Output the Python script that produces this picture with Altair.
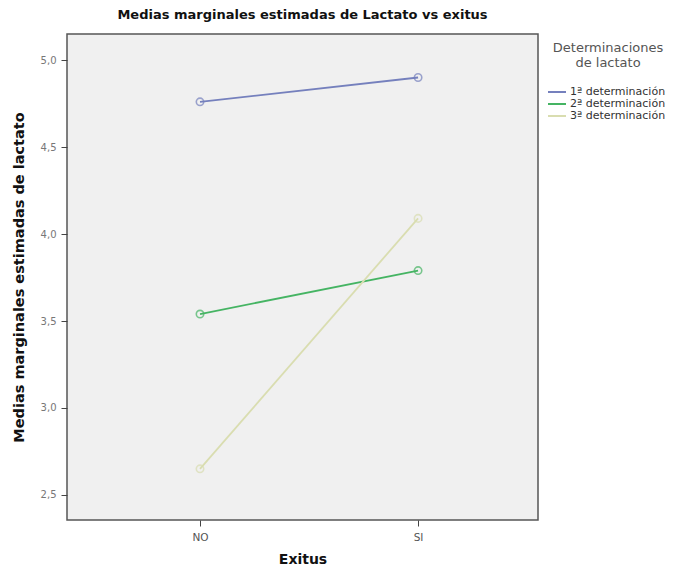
import altair as alt
import pandas as pd

exitus = ["NO", "SI"]
exitus_pos = [0, 1]
series = ["1ª determinación", "2ª determinación", "3ª determinación"]
means_1 = [4.76, 4.90]
means_2 = [3.54, 3.79]
means_3 = [2.65, 4.09]
colors = ["#7580bd", "#45b463", "#d9ddb0"]

rows = []
for s, vals in zip(series, [means_1, means_2, means_3]):
    for e, p, v in zip(exitus, exitus_pos, vals):
        rows.append({"Exitus": e, "pos": p, "Determinación": s, "Media": v})
df = pd.DataFrame(rows)

font = "DejaVu Sans"

x = alt.X("pos:Q",
          scale=alt.Scale(domain=[-0.61, 1.55], nice=False, zero=False),
          axis=alt.Axis(values=exitus_pos, title="Exitus",
                        labelExpr="datum.value == 0 ? 'NO' : 'SI'",
                        grid=False, domain=False, tickColor="#444", tickSize=6,
                        labelColor="#555", labelFontSize=10.5, labelFont=font,
                        titleFont=font, titleFontSize=14, titleFontWeight="bold",
                        titleColor="#111", titlePadding=10, labelPadding=6))
y = alt.Y("Media:Q",
          scale=alt.Scale(domain=[2.356, 5.15], nice=False, zero=False),
          axis=alt.Axis(values=[2.5, 3.0, 3.5, 4.0, 4.5, 5.0],
                        labelExpr="replace(format(datum.value, '.1f'), '.', ',')",
                        title="Medias marginales estimadas de lactato",
                        grid=False, domain=False, tickColor="#444", tickSize=6,
                        labelColor="#777", labelFontSize=10, labelFont=font,
                        titleFont=font, titleFontSize=14.5, titleFontWeight="bold",
                        titleColor="#111", titlePadding=14, labelPadding=5))
color = alt.Color("Determinación:N",
                  scale=alt.Scale(domain=series, range=colors),
                  legend=alt.Legend(title=["Determinaciones", "de lactato"],
                                    orient="none", legendX=483, legendY=8,
                                    symbolType="M-1.5,0H1.5", symbolSize=144,
                                    symbolStrokeWidth=2,
                                    symbolFillColor="transparent",
                                    titleFont=font, titleFontSize=13,
                                    titleFontWeight="normal", titleColor="#555",
                                    titleAlign="center", titleAnchor="middle",
                                    titlePadding=15,
                                    labelFont=font, labelFontSize=11,
                                    labelColor="#333", rowPadding=0,
                                    labelOffset=6))

lines = alt.Chart(df).mark_line(strokeWidth=1.8).encode(x=x, y=y, color=color)
points = alt.Chart(df).mark_point(size=55, strokeWidth=1.6, filled=False).encode(
    x=x, y=y, color=alt.Color("Determinación:N", scale=alt.Scale(domain=series, range=colors), legend=None))

chart = (lines + points).properties(
    width=471, height=486,
    autosize=alt.AutoSizeParams(type="none"),
    padding={"left": 59, "top": 26, "right": 134, "bottom": 48},
    title=alt.TitleParams("Medias marginales estimadas de Lactato vs exitus",
                          font=font, fontSize=13, fontWeight="bold",
                          color="#111", offset=12, anchor="middle"),
    background="white",
).configure_view(fill="#f0f0f0", stroke="#555", strokeWidth=1.5)

chart.save("out.html", embed_options={"renderer": "svg", "actions": False})
